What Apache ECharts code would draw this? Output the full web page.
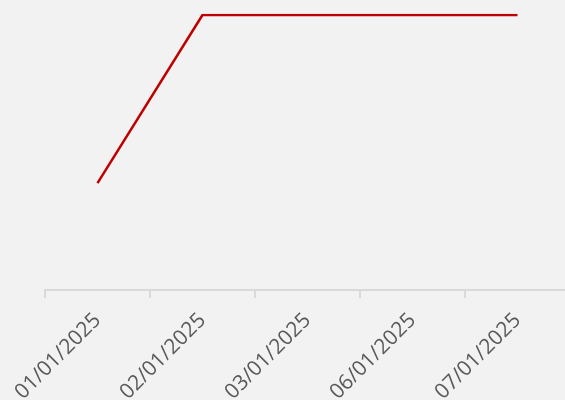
<!DOCTYPE html>
<html lang="en">

<head>
    <meta charset="UTF-8">
    <title>Line Chart</title>
    <style>
        html,
        body {
            margin: 0;
            padding: 0;
            background: #f2f2f2;
        }

        #main {
            width: 565px;
            height: 400px;
        }
    </style>
    <script src="https://cdn.jsdelivr.net/npm/echarts@6/dist/echarts.min.js"></script>
</head>

<body>
    <div id="main"></div>
    <script>
        const dates = ["01/01/2025", "02/01/2025", "03/01/2025", "06/01/2025", "07/01/2025"];
        const values = [7, 18, 18, 18, 18];

        const chart = echarts.init(document.getElementById('main'));

        const option = {
            backgroundColor: '#f2f2f2',
            animation: false,
            grid: {
                left: 45,
                top: 15,
                width: 525,
                bottom: 110,
                containLabel: false,
                outerBoundsMode: 'none'
            },
            xAxis: {
                type: 'category',
                data: dates,
                boundaryGap: true,
                axisLine: {
                    lineStyle: { color: '#d9d9d9', width: 2 }
                },
                axisTick: {
                    show: true,
                    alignWithLabel: false,
                    length: 8,
                    lineStyle: { color: '#d9d9d9', width: 2 }
                },
                axisLabel: {
                    rotate: 45,
                    margin: 27,
                    color: '#595959',
                    fontSize: 21,
                    fontFamily: 'Open Sans'
                }
            },
            yAxis: {
                type: 'value',
                min: 0,
                max: 18,
                show: false
            },
            series: [
                {
                    type: 'line',
                    data: values,
                    showSymbol: false,
                    lineStyle: { color: '#c00000', width: 2.5 }
                }
            ]
        };

        chart.setOption(option);
    </script>
</body>

</html>
